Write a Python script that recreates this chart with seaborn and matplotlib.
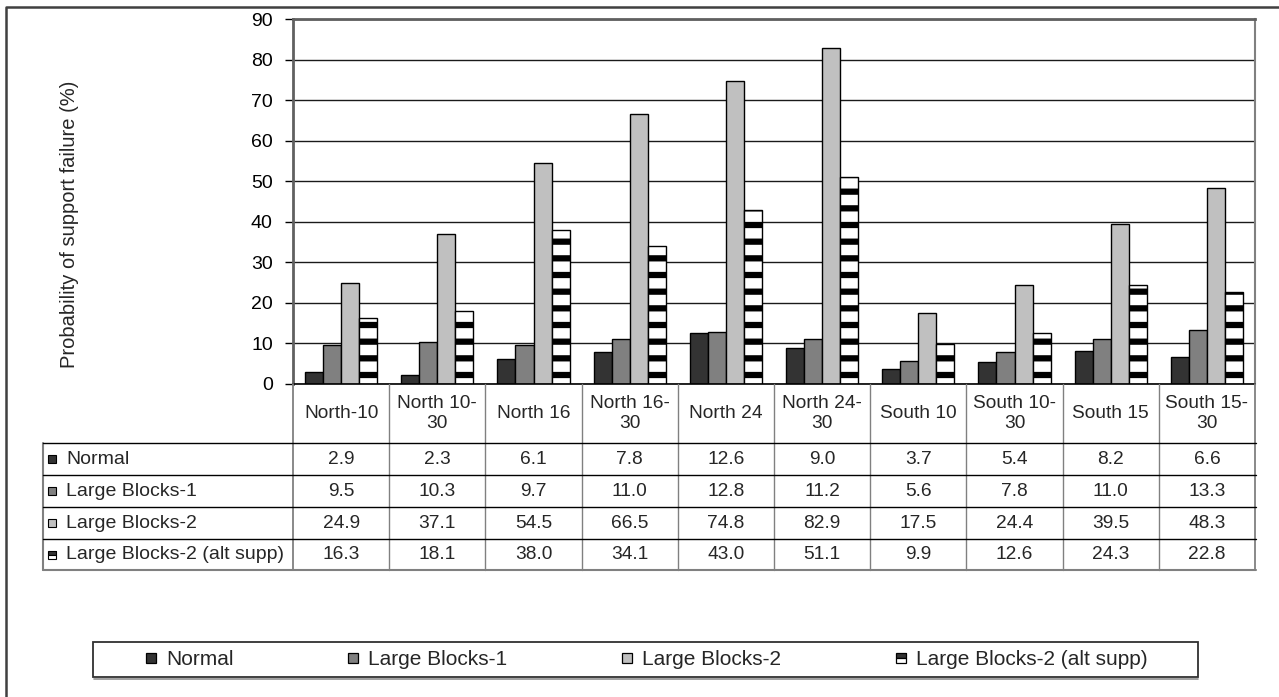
import numpy as np
import pandas as pd
import matplotlib
matplotlib.use("Agg")
import matplotlib.pyplot as plt
import seaborn as sns
from matplotlib.lines import Line2D
from matplotlib.patches import Rectangle
from matplotlib.transforms import blended_transform_factory

# ---------------- data ----------------
sites = ["North-10", "North 10-30", "North 16", "North 16-30", "North 24",
         "North 24-30", "South 10", "South 10-30", "South 15", "South 15-30"]
site_headers = ["North-10", "North 10-\n30", "North 16", "North 16-\n30", "North 24",
                "North 24-\n30", "South 10", "South 10-\n30", "South 15", "South 15-\n30"]
series = ["Normal", "Large Blocks-1", "Large Blocks-2", "Large Blocks-2 (alt supp)"]
normal = [2.9, 2.3, 6.1, 7.8, 12.6, 9.0, 3.7, 5.4, 8.2, 6.6]
large_blocks_1 = [9.5, 10.3, 9.7, 11.0, 12.8, 11.2, 5.6, 7.8, 11.0, 13.3]
large_blocks_2 = [24.9, 37.1, 54.5, 66.5, 74.8, 82.9, 17.5, 24.4, 39.5, 48.3]
large_blocks_2_alt = [16.3, 18.1, 38.0, 34.1, 43.0, 51.1, 9.9, 12.6, 24.3, 22.8]
yticks = [0, 10, 20, 30, 40, 50, 60, 70, 80, 90]
ylabel = "Probability of support failure (%)"

series_values = [normal, large_blocks_1, large_blocks_2, large_blocks_2_alt]
colors = ["#333333", "#808080", "#c0c0c0", "#ffffff"]

# ---------------- style ----------------
sns.set_style("white")
plt.rcParams["font.family"] = ["Liberation Sans", "DejaVu Sans"]
plt.rcParams["hatch.linewidth"] = 4.5
plt.rcParams["hatch.color"] = "black"

W, H = 1279, 697
fig = plt.figure(figsize=(W / 100, H / 100), dpi=100)
fig.patch.set_facecolor("white")


def fx(px):
    return px / W


def fy(py):
    return 1 - py / H


ax = fig.add_axes([fx(293), fy(384), fx(1255) - fx(293), fy(19) - fy(384)])

rows = []
for s, vals in zip(series, series_values):
    for site, v in zip(sites, vals):
        rows.append({"Site": site, "Series": s, "Value": v})
df = pd.DataFrame(rows)

sns.barplot(data=df, x="Site", y="Value", hue="Series", order=sites, hue_order=series,
            palette=dict(zip(series, colors)), width=0.75, saturation=1,
            edgecolor="black", linewidth=1, errorbar=None, legend=False, ax=ax)

for bar in ax.containers[3]:
    bar.set_hatch("-")
    bar.set_facecolor("white")
    bar.set_edgecolor("black")

ax.set_xlim(-0.5, len(sites) - 0.5)
ax.set_ylim(0, 90)
ax.set_yticks(yticks)
ax.set_yticklabels([str(t) for t in yticks])
ax.yaxis.grid(True, color="#1a1a1a", linewidth=1)
ax.xaxis.grid(False)
ax.set_axisbelow(True)
ax.set_xlabel("")
ax.set_ylabel("")
ax.tick_params(axis="x", bottom=False, labelbottom=False)
ax.tick_params(axis="y", left=True, direction="out", length=6, width=1,
               color="black", pad=8.5, labelsize=14, labelcolor="black")
for side in ["left", "top"]:
    ax.spines[side].set_color("#606060")
    ax.spines[side].set_linewidth(2)
ax.spines["right"].set_color("#808080")
ax.spines["right"].set_linewidth(1.5)
ax.spines["bottom"].set_color("black")
ax.spines["bottom"].set_linewidth(1.2)

fig.text(fx(70), fy(224), ylabel, rotation=90, ha="center", va="center", fontsize=14.5)

# ---------------- data table ----------------
bt = blended_transform_factory(ax.transData, fig.transFigure)
row_edges = [443, 475, 507, 539, 570]
tab_top = 384
tab_left_px = 43
tfs = 13.8

# vertical column separators (gray)
for i in range(len(sites) + 1):
    xb = i - 0.5
    fig.add_artist(Line2D([xb, xb], [fy(tab_top), fy(row_edges[-1])], transform=bt,
                          color="#808080", lw=1.3 if i in (0, len(sites)) else 1))
# label column left edge
fig.add_artist(Line2D([fx(tab_left_px), fx(tab_left_px)], [fy(row_edges[0]), fy(row_edges[-1])],
                      transform=fig.transFigure, color="#808080", lw=1.5))
# horizontal lines
x_right = fx(1255) + 0.0008
for k, ry in enumerate(row_edges):
    col = "#808080" if k == len(row_edges) - 1 else "black"
    fig.add_artist(Line2D([fx(tab_left_px), x_right], [fy(ry), fy(ry)],
                          transform=fig.transFigure, color=col, lw=1.5 if k == len(row_edges) - 1 else 1))

# header labels
for i, h in enumerate(site_headers):
    ax.text(i, fy((tab_top + row_edges[0]) / 2), h, transform=bt, ha="center", va="center",
            multialignment="center", fontsize=tfs, linespacing=1.22)

# rows
fills = ["full", "full", "full", "top"]
for r, (s, vals, c) in enumerate(zip(series, series_values, colors)):
    yc = fy((row_edges[r] + row_edges[r + 1]) / 2)
    fc = "#333333" if r == 3 else c
    fig.add_artist(Line2D([fx(52)], [yc], marker="s", markersize=6, linestyle="none",
                          markerfacecolor=fc, markerfacecoloralt="white", fillstyle=fills[r],
                          markeredgecolor="black", markeredgewidth=0.8, transform=fig.transFigure))
    fig.text(fx(66), yc, s, ha="left", va="center", fontsize=14)
    for i, v in enumerate(vals):
        ax.text(i, yc, f"{v:.1f}", transform=bt, ha="center", va="center", fontsize=tfs)

# ---------------- legend ----------------
handles = []
for r, c in enumerate(colors):
    fc = "#333333" if r == 3 else c
    handles.append(Line2D([], [], marker="s", linestyle="none", markersize=7,
                          markerfacecolor=fc, markerfacecoloralt="white", fillstyle=fills[r],
                          markeredgecolor="black", markeredgewidth=0.9))
fig.add_artist(Rectangle((fx(93), fy(677)), fx(1198) - fx(93), fy(642) - fy(677),
                         transform=fig.transFigure, fill=False, edgecolor="#303030", lw=1.3))
fig.add_artist(Line2D([fx(94), fx(1198)], [fy(678.5), fy(678.5)], transform=fig.transFigure,
                      color="#909090", lw=1.2))
fig.legend(handles, series, loc="center", bbox_to_anchor=(fx(645.5), fy(659.5)), ncol=4,
           frameon=False, fontsize=15, handlelength=0.7, handletextpad=0.37,
           columnspacing=5.4, borderpad=0)

# outer frame (left and top visible)
fig.add_artist(Line2D([fx(6), fx(6), 1.0], [0.0, fy(7), fy(7)], transform=fig.transFigure,
                      color="#404040", lw=1.8))

fig.savefig("out.png", dpi=100, facecolor="white")
